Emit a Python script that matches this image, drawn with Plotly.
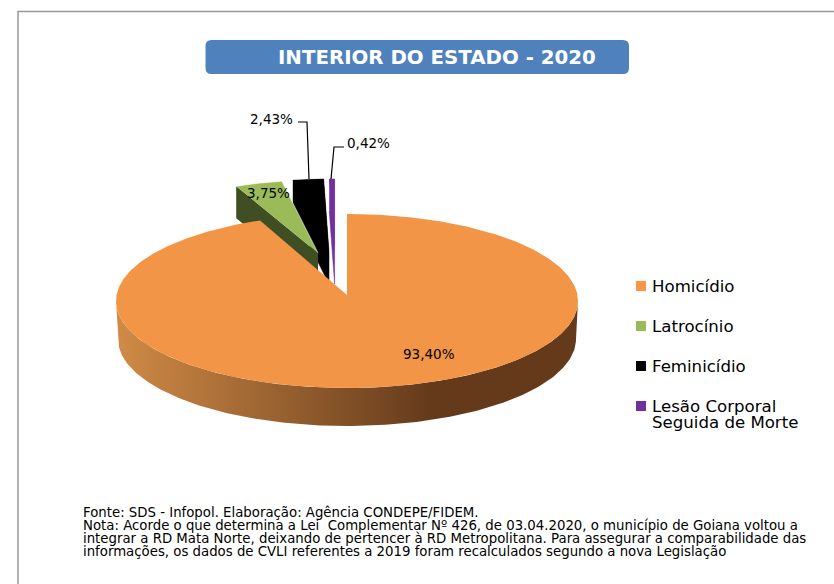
import numpy as np
import plotly.graph_objects as go

categories = ["Homicídio", "Latrocínio", "Feminicídio", "Lesão Corporal<br>Seguida de Morte"]
series_names = ["Homicídio", "Latrocínio", "Feminicídio", "Lesão Corporal Seguida de Morte"]
values = [93.40, 3.75, 2.43, 0.42]
title = "INTERIOR DO ESTADO - 2020"
footer_lines = [
    "Fonte: SDS - Infopol. Elaboração: Agência CONDEPE/FIDEM.",
    "Nota: Acorde o que determina a Lei  Complementar Nº 426, de 03.04.2020, o município de Goiana voltou a",
    "integrar a RD Mata Norte, deixando de pertencer à RD Metropolitana. Para assegurar a comparabilidade das",
    "informações, os dados de CVLI referentes a 2019 foram recalculados segundo a nova Legislação",
]

colors = ["#F39546", "#9BBB59", "#000000", "#7030A0"]
side_colors = [None, "#3F4F23", "#000000", "#4A2070"]
FONT = "DejaVu Sans"

# pie geometry, in page pixels
CX, CY, RX, RY = 347, 301, 231, 87
APEX_Y = 295
DEPTH = 38
SMALL_RX, SMALL_RY, SMALL_DEPTH = 203, 73, 32
small_centers = {1: (318, 253), 2: (329, 252), 3: (334.6, 252)}
PERSPECTIVE = 0.039  # rear of the disc looks compressed: shifts apparent angles only

fractions = np.array(values) / sum(values) * 2 * np.pi
ends = np.cumsum(fractions)
starts = ends - fractions


def arc(cx, cy, rx, ry, a0, a1, n=200):
    t = np.linspace(a0, a1, n)
    return cx + rx * np.sin(t), cy - ry * np.cos(t)


def tight(text, glyph_size):
    """Plotly spaces <br> lines by the annotation font size; glyphs take the span's size."""
    return "<br>".join(f'<span style="font-size:{glyph_size}px">{t}</span>' for t in text.split("<br>"))


fig = go.Figure()


def poly(x, y, color, name, line=None, lw=0.6):
    fig.add_trace(go.Scatter(x=list(x), y=list(y), mode="lines", fill="toself", fillcolor=color,
                             line=dict(width=lw if line else 0, color=line or color),
                             name=name, hoverinfo="name", showlegend=False))


# orange rim with a horizontal gradient
bx, by = arc(CX, CY, RX, RY, np.pi / 2, 3 * np.pi / 2)
bx2, by2 = arc(CX, CY + DEPTH, RX - 2, RY, 3 * np.pi / 2, np.pi / 2)
fig.add_trace(go.Scatter(
    x=list(bx) + list(bx2), y=list(by) + list(by2), mode="lines", fill="toself",
    fillgradient=dict(type="horizontal",
                      colorscale=[[0, "#D08B46"], [0.686, "#643A1B"], [1, "#643A1B"]]),
    line=dict(width=0), hoverinfo="skip", showlegend=False))

# exploded small slices: side walls first, then top faces
for i in (3, 2, 1):
    cx, cy = small_centers[i]
    ax, ay = arc(cx, cy, SMALL_RX, SMALL_RY, starts[i], ends[i], 40)
    name = series_names[i]
    if i == 1:
        poly([ax[0], cx, cx, ax[0]], [ay[0], cy, cy + SMALL_DEPTH, ay[0] + SMALL_DEPTH], side_colors[i], name)
    else:
        # silhouette of the extruded slice
        hx = [ax[0], ax[-1], cx, cx, ax[0]]
        hy = [ay[0], ay[-1], cy, cy + SMALL_DEPTH, ay[0] + SMALL_DEPTH]
        poly(hx, hy, colors[i], name, line=colors[i], lw=0.5)
    poly(list(ax) + [cx], list(ay) + [cy], colors[i], name, line="#FFFFFF" if i == 1 else None)

# main slice, top face
main_end = ends[0] - PERSPECTIVE * np.sin(2 * ends[0])
mx, my = arc(CX, CY, RX, RY, starts[0], main_end, 500)
poly([CX] + list(mx) + [CX], [APEX_Y] + list(my) + [APEX_Y], colors[0], series_names[0])

ann = []
# legend drawn at the pixel rows of the reference
LEG_X, LEG_Y, LEG_STEP = 641, 286, 40
legend_colors = ["#F79646", "#9BBB59", "#000000", "#7030A0"]
for i, name in enumerate(series_names):
    y = LEG_Y + i * LEG_STEP
    fig.add_trace(go.Scatter(x=[LEG_X], y=[y], mode="markers", name=name,
                             marker=dict(symbol="square", size=10, color=legend_colors[i], line=dict(width=0)),
                             hoverinfo="name", showlegend=False))
for text, y in zip(categories, [286, 326, 366, 414]):
    ann.append(dict(x=649.5, y=y, text=tight(text, 16.6), xanchor="left", yanchor="middle", align="left",
                    showarrow=False, font=dict(family=FONT, size=12.4, color="#000000")))


def pct(v):
    return f"{v:.2f}%".replace(".", ",")


label_pos = [(429, 354, "center"), (268, 193, "center"), (295, 119, "right"), (345, 143, "left")]
for v, (x, y, anchor) in zip(values, label_pos):
    ann.append(dict(x=x, y=y, text=pct(v), xanchor=anchor, yanchor="middle", showarrow=False,
                    font=dict(family=FONT, size=13.5, color="#000000")))

ann.append(dict(x=437, y=57.5, text=f"<b>{title}</b>", showarrow=False, xanchor="center", yanchor="middle",
                font=dict(family=FONT, size=19.8, color="#FFFFFF")))
ann.append(dict(x=81, y=531.5, text=tight("<br>".join(footer_lines), 13.3), showarrow=False,
                xanchor="left", yanchor="middle", align="left",
                font=dict(family=FONT, size=10, color="#000000")))

# leader lines
fig.add_trace(go.Scatter(x=[298, 307, 309], y=[122, 122, 179], mode="lines", hoverinfo="skip",
                         line=dict(color="#000000", width=1.2), showlegend=False))
fig.add_trace(go.Scatter(x=[344, 334, 331], y=[147, 147, 179], mode="lines", hoverinfo="skip",
                         line=dict(color="#000000", width=1.2), showlegend=False))

# title box
x0, x1, y0, y1, r = 205.5, 629, 40, 74, 6
box = (f"M{x0+r},{y0} L{x1-r},{y0} Q{x1},{y0} {x1},{y0+r} L{x1},{y1-r} Q{x1},{y1} {x1-r},{y1} "
       f"L{x0+r},{y1} Q{x0},{y1} {x0},{y1-r} L{x0},{y0+r} Q{x0},{y0} {x0+r},{y0} Z")
frame = "M18,584 L18,11.5 L834,11.5"

fig.update_layout(
    width=834, height=584, margin=dict(l=0, r=0, t=0, b=0),
    paper_bgcolor="#FFFFFF", plot_bgcolor="#FFFFFF",
    xaxis=dict(range=[0, 834], visible=False, fixedrange=True),
    yaxis=dict(range=[584, 0], visible=False, fixedrange=True),
    shapes=[dict(type="path", path=box, fillcolor="#4F81BD", line=dict(width=0), layer="below"),
            dict(type="path", path=frame, line=dict(width=1.5, color="#9A9A9A"), layer="below")],
    annotations=ann,
)
fig.write_html("out.html", config={"displayModeBar": False},
               post_script="document.body.style.margin='0';document.body.style.overflow='hidden';")
